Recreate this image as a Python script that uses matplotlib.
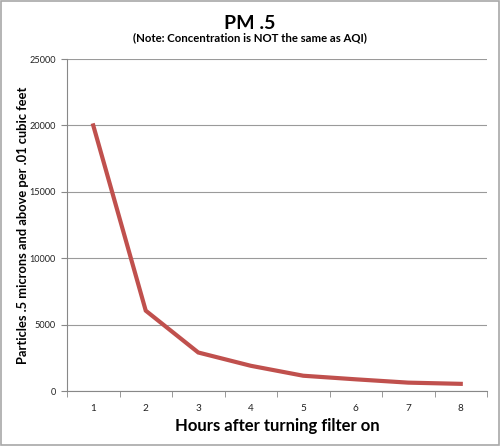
import matplotlib
matplotlib.use("Agg")
import matplotlib.pyplot as plt
from matplotlib.patches import Rectangle

hours = [1, 2, 3, 4, 5, 6, 7, 8]
particles = [20000, 6050, 2900, 1900, 1150, 880, 630, 540]
y_ticks = [0, 5000, 10000, 15000, 20000, 25000]

plt.rcParams['font.family'] = ['Lato', 'DejaVu Sans']

fig = plt.figure(figsize=(5.0, 4.46), dpi=100)
fig.patch.set_facecolor('white')
fig.add_artist(Rectangle((0.002, 0.002), 0.996, 0.996, transform=fig.transFigure,
                         fill=False, edgecolor='#a8a8a8', linewidth=1.2))

ax = fig.add_axes([0.134, 0.1233, 0.84, 0.7444])
ax.plot(hours, particles, color='#C0504D', linewidth=3, solid_joinstyle='miter')

ax.set_xlim(0.5, 8.5)
ax.set_ylim(0, 25000)
ax.set_yticks(y_ticks)
ax.set_yticklabels([str(v) for v in y_ticks], fontsize=6.6, color='#222222')
ax.set_xticks(hours)
ax.set_xticklabels([str(h) for h in hours], fontsize=7.2, color='#222222')
ax.set_xticks([h - 0.5 for h in hours] + [8.5], minor=True)
ax.tick_params(axis='x', which='major', length=0, pad=9)
ax.tick_params(axis='x', which='minor', length=4, color='#888888', direction='out')
ax.tick_params(axis='y', length=4, color='#888888', direction='out', pad=4)

ax.grid(axis='y', color='#9a9a9a', linewidth=0.8)
ax.set_axisbelow(True)
for s in ['top', 'right']:
    ax.spines[s].set_visible(False)
for s in ['left', 'bottom']:
    ax.spines[s].set_color('#888888')
    ax.spines[s].set_linewidth(0.8)

ax.set_xlabel('Hours after turning filter on', fontsize=12, fontweight='bold', labelpad=4)
ax.set_ylabel('Particles .5 microns and above per .01 cubic feet', fontsize=9.3,
              fontweight='bold')
ax.yaxis.set_label_coords(-0.09, 0.5)

fig.text(0.5, 0.948, 'PM .5', ha='center', va='center', fontsize=14, fontweight='bold')
fig.text(0.5, 0.915, '(Note: Concentration is NOT the same as AQI)', ha='center',
         va='center', fontsize=8.2, fontweight='bold')

fig.savefig('out.png', dpi=100)
